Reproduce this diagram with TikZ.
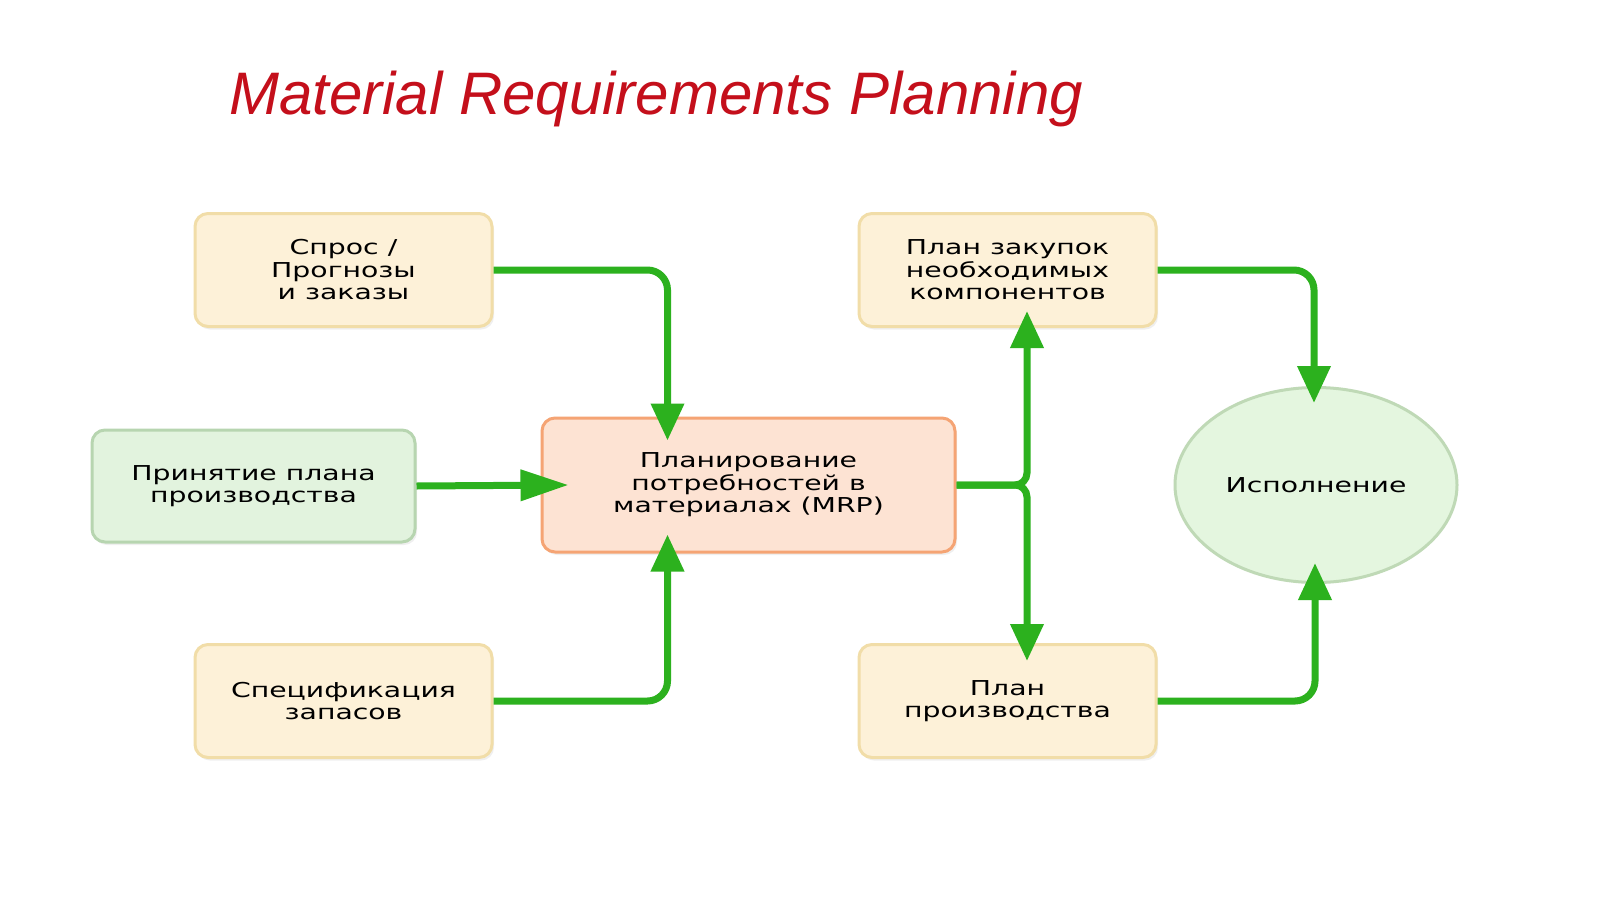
\documentclass[tikz,border=0pt]{standalone}
\usepackage{fontspec}
\setmainfont{DejaVu Sans}[FakeStretch=1.38]
\newfontfamily\titlefont{Liberation Sans}
\usetikzlibrary{arrows.meta,shapes.geometric,calc,shadows}
\definecolor{creamfill}{HTML}{FDF1D8}
\definecolor{creamline}{HTML}{F1DDA8}
\definecolor{greenfill}{HTML}{E2F3DE}
\definecolor{greenline}{HTML}{B7D5B0}
\definecolor{mrpfill}{HTML}{FDE3D3}
\definecolor{mrpline}{HTML}{F5A474}
\definecolor{ellfill}{HTML}{E4F6DF}
\definecolor{ellline}{HTML}{BFD9B6}
\definecolor{flowgreen}{HTML}{2CB11E}
\definecolor{titlered}{HTML}{C40F1B}
\tikzset{
  box/.style={rectangle, rounded corners=13pt, line width=3pt, inner sep=0pt, align=center,
    font=\fontsize{20.5}{22.5}\selectfont,
    drop shadow={shadow xshift=2pt, shadow yshift=-3pt, opacity=0.12}},
  creambox/.style={box, fill=creamfill, draw=creamline, minimum width=297pt, minimum height=113pt},
  greenbox/.style={box, fill=greenfill, draw=greenline, minimum width=323pt, minimum height=112pt},
  mrpbox/.style={box, fill=mrpfill, draw=mrpline, minimum width=413pt, minimum height=134pt},
  ellbox/.style={ellipse, fill=ellfill, draw=ellline, line width=3pt, inner sep=0pt,
    minimum width=282pt, minimum height=195pt, font=\fontsize{20.5}{22.5}\selectfont},
  flow/.style={draw=flowgreen, line width=7pt, rounded corners=20pt,
    -{Triangle[length=37pt,width=32pt]}},
  fork/.style={flow, rounded corners=12pt},
  titletext/.style={anchor=base west, inner sep=0pt, text=titlered,
    font=\titlefont\itshape\fontsize{60}{62}\selectfont}
}
\begin{document}
\begin{tikzpicture}[x=1pt,y=-1pt]
\fill[white] (0,0) rectangle (1600,899);
\useasboundingbox (0,0) rectangle (1600,899);

\node[titletext] (title) at (229,114) {Material Requirements Planning};

\node[creambox] (a) at (343.5,270) {Спрос /\\Прогнозы\\и заказы};
\node[greenbox] (b) at (253.5,486) {Принятие плана\\производства};
\node[creambox] (c) at (343.5,701) {Спецификация\\запасов};
\node[mrpbox] (mrp) at (748.5,485) {Планирование\\потребностей в\\материалах (MRP)};
\node[creambox] (d) at (1007.5,270) {План закупок\\необходимых\\компонентов};
\node[creambox] (e) at (1007.5,701) {План\\производства};
\node[ellbox] (ex) at (1316,485) {Исполнение};

\draw[flow] (a.east) -| ($(mrp.north)+(-81,24)$);
\draw[flow, -{Triangle[length=48pt,width=30pt]}] (b.east) -- ($(mrp.west)+(28,0)$);
\draw[flow] (c.east) -| ($(mrp.south)+(-81,-19)$);
\draw[fork] (mrp.east) -| ($(d.south)+(19.5,-17)$);
\draw[fork] (mrp.east) -| ($(e.north)+(19.5,18)$);
\draw[flow] (d.east) -| ($(ex.north)+(-2,17)$);
\draw[flow] (e.east) -| ($(ex.south)+(-1,-21)$);
\end{tikzpicture}
\end{document}
